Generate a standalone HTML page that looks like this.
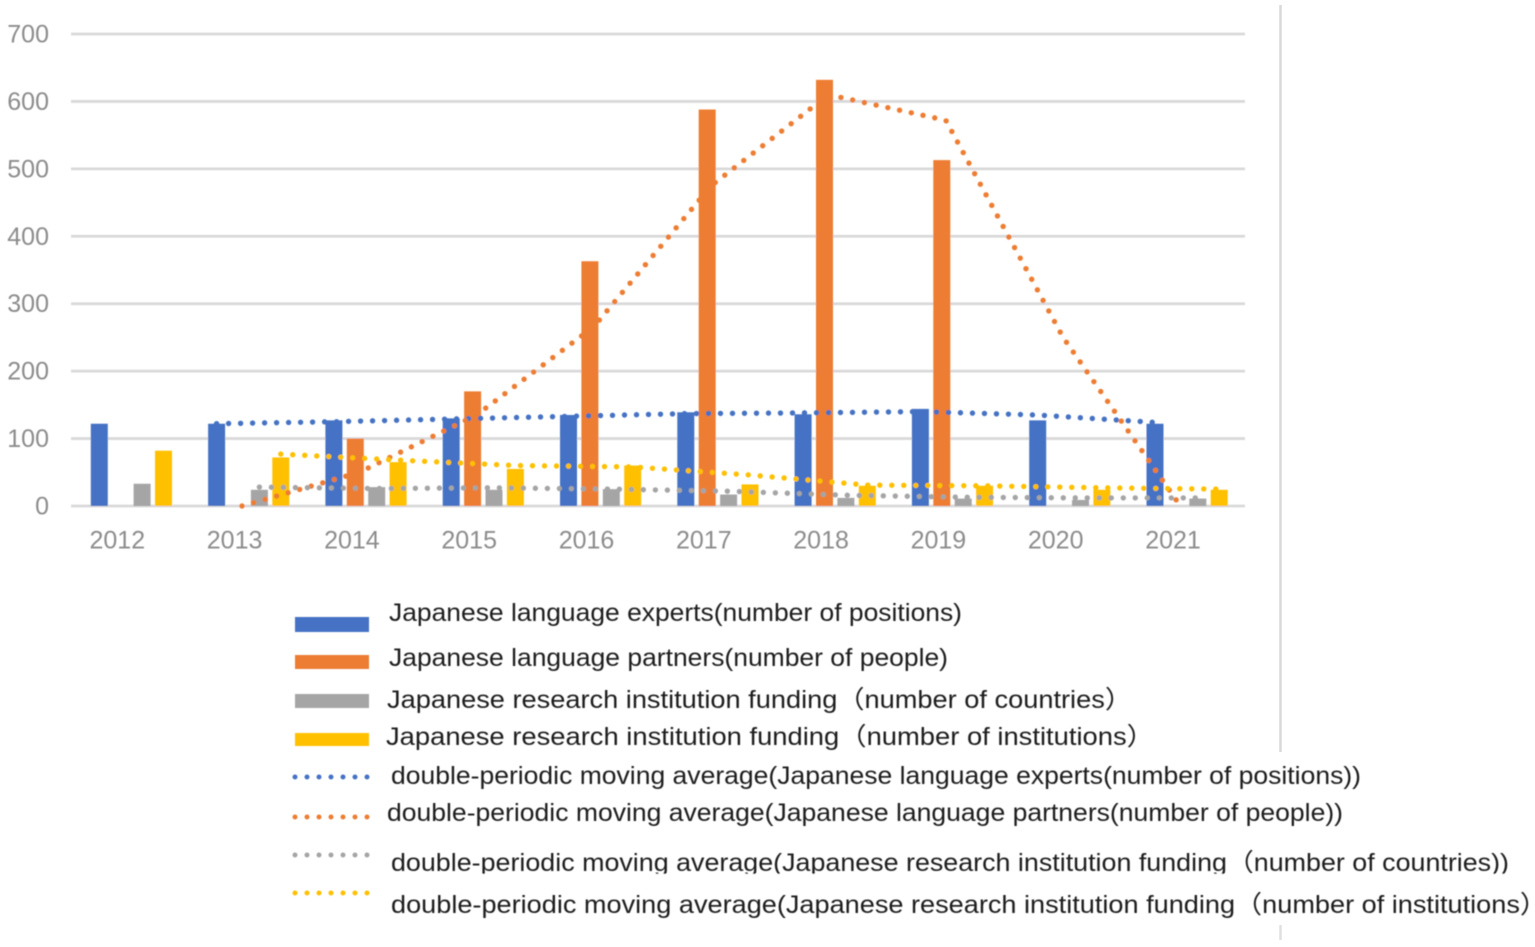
<!DOCTYPE html>
<html lang="en">
<head>
<meta charset="utf-8">
<title>Japanese language experts, partners and research funding 2012-2021</title>
<style>
html,body{margin:0;padding:0;background:#fff;width:1535px;height:947px;overflow:hidden}
svg{display:block}
text{font-family:"Liberation Sans","Noto Sans CJK SC",sans-serif}
.tick{font-size:25px;fill:#8c8c8c}
.leg{font-size:25px;fill:#1f1f1f}
</style>
</head>
<body>
<svg id="chart" width="1535" height="947" viewBox="0 0 1535 947" xmlns="http://www.w3.org/2000/svg">
  <defs>
    <filter id="soft" x="-2%" y="-2%" width="104%" height="104%"><feGaussianBlur stdDeviation="0.6"/></filter>
  </defs>
  <rect x="0" y="0" width="1535" height="947" fill="#fff"/>
  <g id="plot" filter="url(#soft)"></g>
  <rect x="967" y="525" width="8" height="30" fill="#fff"/>
  <rect x="1087" y="525" width="8" height="30" fill="#fff"/>
  <line x1="1280.5" y1="5" x2="1280.5" y2="752" stroke="#d9d9d9" stroke-width="2.5"/>
  <line x1="1280.5" y1="925" x2="1280.5" y2="940" stroke="#e0e0e0" stroke-width="2.5"/>
  <g filter="url(#soft)">
    <g>
      <rect x="295" y="617" width="74" height="15" fill="#4472c4"/>
      <text class="leg" x="389" y="621" textLength="573" lengthAdjust="spacingAndGlyphs">Japanese language experts(number of positions)</text>
    </g>
    <g>
      <rect x="295" y="655" width="74" height="14" fill="#ed7d31"/>
      <text class="leg" x="389" y="666" textLength="559" lengthAdjust="spacingAndGlyphs">Japanese language partners(number of people)</text>
    </g>
    <g>
      <rect x="295" y="694" width="74" height="14" fill="#a5a5a5"/>
      <text class="leg" x="387" y="708" textLength="745" lengthAdjust="spacingAndGlyphs">Japanese research institution funding（number of countries）</text>
    </g>
    <g>
      <rect x="295" y="733" width="74" height="13" fill="#ffc000"/>
      <text class="leg" x="386" y="745" textLength="768" lengthAdjust="spacingAndGlyphs">Japanese research institution funding（number of institutions）</text>
    </g>
    <g>
      <line x1="295" y1="777" x2="369" y2="777" stroke="#4472c4" stroke-width="5" stroke-linecap="round" stroke-dasharray="0 12"/>
      <text class="leg" x="391" y="784" textLength="970" lengthAdjust="spacingAndGlyphs">double-periodic moving average(Japanese language experts(number of positions))</text>
    </g>
    <g>
      <line x1="295" y1="817" x2="369" y2="817" stroke="#ed7d31" stroke-width="5" stroke-linecap="round" stroke-dasharray="0 12"/>
      <text class="leg" x="387" y="821" textLength="956" lengthAdjust="spacingAndGlyphs">double-periodic moving average(Japanese language partners(number of people))</text>
    </g>
    <g>
      <line x1="295" y1="855" x2="369" y2="855" stroke="#a5a5a5" stroke-width="5" stroke-linecap="round" stroke-dasharray="0 12"/>
      <text class="leg" x="391" y="871" textLength="1118" lengthAdjust="spacingAndGlyphs">double-periodic moving average(Japanese research institution funding（number of countries))</text>
    </g>
    <rect x="385" y="874" width="1130" height="8" fill="#fff"/>
    <g>
      <line x1="295" y1="893" x2="369" y2="893" stroke="#ffc000" stroke-width="5" stroke-linecap="round" stroke-dasharray="0 12"/>
      <text class="leg" x="391" y="913" textLength="1156" lengthAdjust="spacingAndGlyphs">double-periodic moving average(Japanese research institution funding（number of institutions）</text>
    </g>
  </g>
</svg>
<script>
const years = ['2012','2013','2014','2015','2016','2017','2018','2019','2020','2021'];
const yTicks = [0,100,200,300,400,500,600,700];
const experts = [122,122,127,130,135,139,136,144,127,122];
const partners = [0,0,100,170,363,588,632,513,0,0];
const fundingCountries = [33,24,28,24,25,17,12,11,9,11];
const fundingInstitutions = [82,72,65,55,60,32,30,30,24,24];
const maExperts = [null,122,125,129,133,137,138,140,135,124];
const maPartners = [null,0,50,135,266,475,610,572,250,0];
const maFundingCountries = [null,28,26,27,25,22,16,13,12,12];
const maFundingInstitutions = [null,77,68,60,58,46,31,30,27,25];

const NS = 'http://www.w3.org/2000/svg';
const plot = document.getElementById('plot');
const colors = ['#4472c4','#ed7d31','#a5a5a5','#ffc000'];
const barSeries = [experts, partners, fundingCountries, fundingInstitutions];
const barNames = ['experts','partners','funding-countries','funding-institutions'];
const lineSeries = [maExperts, maPartners, maFundingCountries, maFundingInstitutions];
const lineShift = [0, 4, 0, 0];

function yScale(v){ return 506 - v * (472 / 700); }
function xBand(i){ return 117.3 + i * 117.3; }
function seriesX(i, s){ return xBand(i) - 18 + s * 21.4; }
function make(tag, attrs){
  const el = document.createElementNS(NS, tag);
  for (const k in attrs) el.setAttribute(k, attrs[k]);
  return el;
}

yTicks.forEach(function(t){
  const y = yScale(t);
  const grid = make('line', {x1:71, x2:1245, y1:y, y2:y, stroke:'#d9d9d9', 'stroke-width':2.8});
  
  
  plot.appendChild(grid);
  const label = make('text', {x:49, y:y + 8.5, 'text-anchor':'end', class:'tick'});
  
  
  label.textContent = String(t);
  plot.appendChild(label);
});

years.forEach(function(yr, i){
  const label = make('text', {x:xBand(i), y:548.5, 'text-anchor':'middle', class:'tick'});
  
  
  label.textContent = yr;
  plot.appendChild(label);
});

barSeries.forEach(function(values, s){
  values.forEach(function(v, i){
    if (v <= 0) return;
    const y = yScale(v);
    const bar = make('rect', {x:seriesX(i, s) - 8.5, y:y, width:17, height:506 - y, fill:colors[s]});
    
    
    plot.appendChild(bar);
  });
});

lineSeries.forEach(function(values, s){
  const pts = [];
  values.forEach(function(v, i){
    if (v !== null) pts.push((seriesX(i, s) + lineShift[s]).toFixed(1) + ',' + yScale(v).toFixed(1));
  });
  const line = make('polyline', {points:pts.join(' '), fill:'none', stroke:colors[s], 'stroke-width':5.4, 'stroke-linecap':'round', 'stroke-dasharray':'0 12'});
  
  
  plot.appendChild(line);
});
</script>
</body>
</html>
